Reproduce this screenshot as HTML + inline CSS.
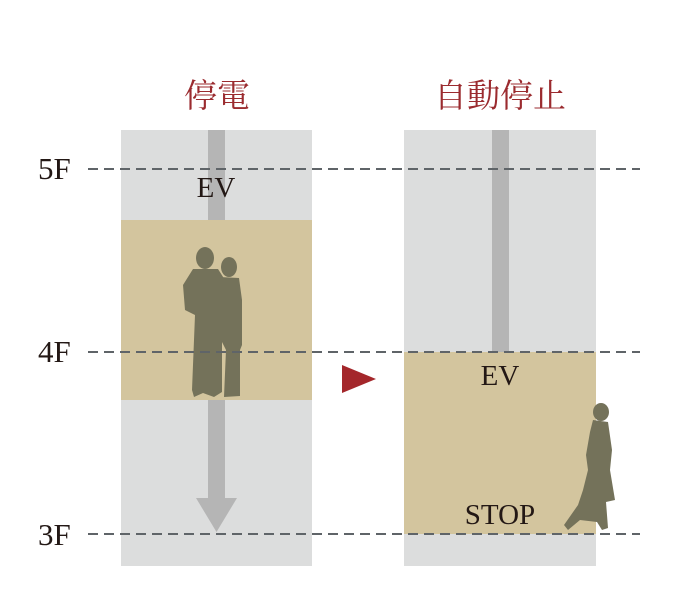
<!DOCTYPE html>
<html><head><meta charset="utf-8"><style>
html,body{margin:0;padding:0;background:#fff;}
svg{display:block;}
text{font-family:"Liberation Serif","Noto Serif CJK SC",serif;}
</style></head><body>
<svg width="690" height="614" viewBox="0 0 690 614" xmlns="http://www.w3.org/2000/svg">
<rect width="690" height="614" fill="#fff"/>
<text x="217" y="107" font-size="33" fill="#9b2b2f" text-anchor="middle">停電</text>
<text x="500" y="107" font-size="33" fill="#9b2b2f" text-anchor="middle">自動停止</text>
<rect x="121" y="130" width="191" height="436" fill="#dcdddd"/>
<rect x="121" y="220" width="191" height="180" fill="#d3c59e"/>
<rect x="208" y="130" width="17" height="90" fill="#b5b5b5"/>
<rect x="208" y="400" width="17" height="100" fill="#b5b5b5"/>
<polygon points="196,498 237,498 216.5,532" fill="#b5b5b5"/>
<rect x="404" y="130" width="192" height="436" fill="#dcdddd"/>
<rect x="404" y="352" width="192" height="182" fill="#d3c59e"/>
<rect x="492" y="130" width="17" height="222" fill="#b5b5b5"/>
<polygon points="342,365 376,379 342,393" fill="#a4272b"/>
<text x="216" y="197" font-size="29" fill="#231815" text-anchor="middle">EV</text>
<text x="500" y="385" font-size="29" fill="#231815" text-anchor="middle">EV</text>
<text x="500" y="524" font-size="29" fill="#231815" text-anchor="middle">STOP</text>
<text x="38" y="179" font-size="31" fill="#231815">5F</text>
<text x="38" y="362" font-size="31" fill="#231815">4F</text>
<text x="38" y="545" font-size="31" fill="#231815">3F</text>
<g fill="#74725a">
<ellipse cx="229" cy="267" rx="8" ry="10"/>
<path d="M219,277 L239,278 L242,300 L242,345 L240,350 L240,396 L224,397 L226,350 L221,340 L218,300 Z"/>
<ellipse cx="205" cy="258" rx="9" ry="11"/>
<path d="M193,269 L218,269 L225,280 L226,300 L222,315 L222,392 L214,397 L203,393 L194,397 L192,390 L195,315 L185,310 L183,285 Z"/>
</g>
<g fill="#74725a">
<ellipse cx="601" cy="412" rx="8" ry="9"/>
<path d="M593,420 L608,422 L612,450 L610,470 L615,500 L606,502 L608,528 L602,530 L597,522 L580,520 L568,530 L564,525 L578,505 L583,490 L588,470 L586,455 L590,432 Z"/>
</g>
<g stroke="#5f6468" stroke-width="2" stroke-dasharray="10,6">
<line x1="88" y1="169" x2="640" y2="169"/>
<line x1="88" y1="352" x2="640" y2="352"/>
<line x1="88" y1="534" x2="640" y2="534"/>
</g>
</svg>
</body></html>
